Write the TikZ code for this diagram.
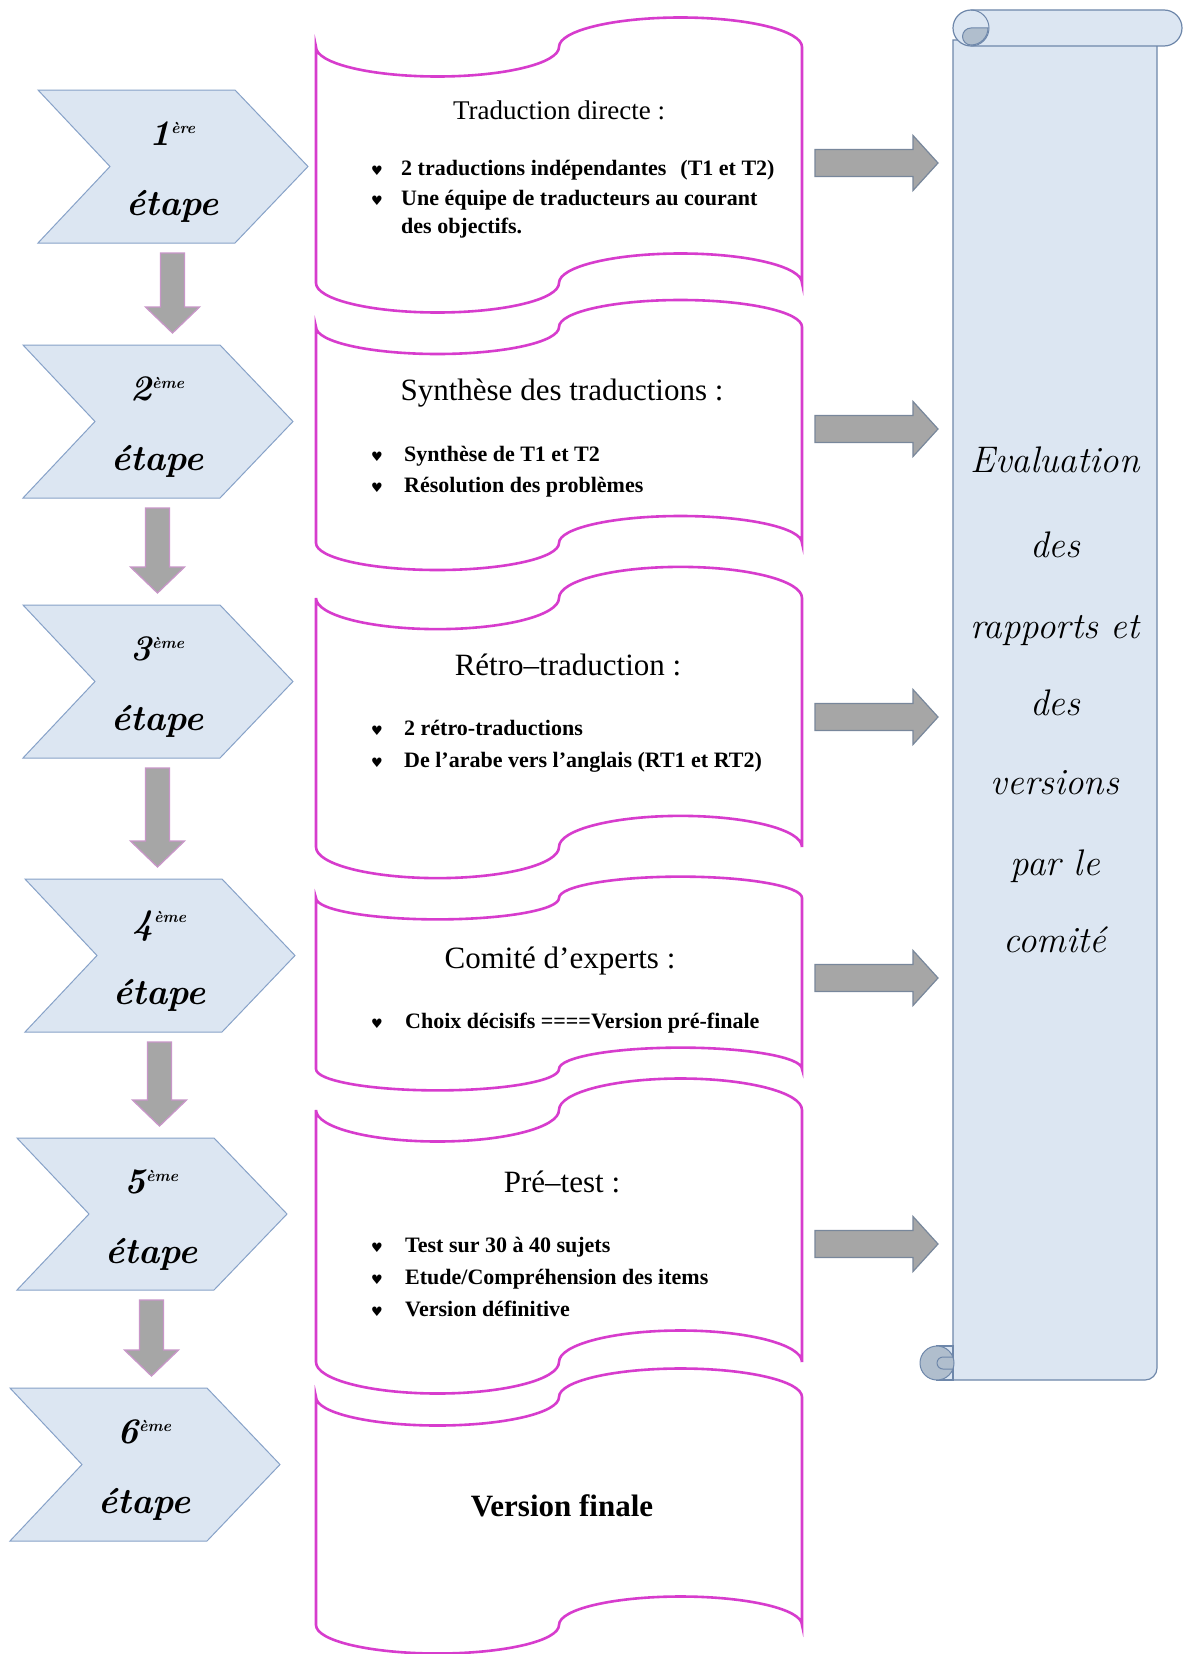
\documentclass[tikz,border=0pt]{standalone}
\usepackage{fontspec}
\setmainfont{Liberation Serif}
\newfontfamily\symf{DejaVu Sans}
\newfontfamily\scrf{Latin Modern Roman}
\usetikzlibrary{calc}
\definecolor{paleblue}{RGB}{220,230,242}
\definecolor{chevline}{RGB}{135,162,200}
\definecolor{wavemag}{RGB}{215,60,205}
\definecolor{arrowgray}{RGB}{166,166,166}
\definecolor{darrowline}{RGB}{200,150,200}
\definecolor{rarrowline}{RGB}{120,135,155}
\definecolor{scrollline}{RGB}{110,135,170}
\definecolor{curldark}{RGB}{176,190,205}
\tikzset{
  wave/.style={draw=wavemag, line width=2.6pt, fill=white},
  chev/.style={draw=chevline, line width=1pt, fill=paleblue},
  darrow/.style={draw=darrowline, line width=1.3pt, fill=arrowgray},
  rarrow/.style={draw=rarrowline, line width=1.2pt, fill=arrowgray},
  scrollshape/.style={draw=scrollline, line width=1.2pt, fill=paleblue},
  curlshape/.style={draw=scrollline, line width=1pt, fill=curldark},
  ttl/.style={font=\fontsize{31}{34}\selectfont, anchor=base, inner sep=0pt},
  blt/.style={font=\fontsize{22}{24}\selectfont\bfseries, anchor=base west, inner sep=0pt},
  hrt/.style={font=\symf\fontsize{13}{13}\selectfont, anchor=base west, inner sep=0pt},
  stp/.style={font=\scrf\bfseries\itshape\fontsize{36}{38}\selectfont, anchor=base, inner sep=0pt},
  evl/.style={font=\scrf\itshape\fontsize{37}{40}\selectfont, anchor=base, inner sep=0pt},
}
% wave (punched tape) box: name, top mid line, bottom mid line
\newcommand\wavebox[3]{%
  \pgfmathsetmacro\wry{(#3-#2)/8}%
  \draw[wave] (316,#2)
     arc[start angle=180,end angle=360,x radius=121.5pt,y radius=\wry pt]
     arc[start angle=180,end angle=0,x radius=121.5pt,y radius=\wry pt]
     -- (802,#3)
     arc[start angle=0,end angle=180,x radius=121.5pt,y radius=\wry pt]
     arc[start angle=0,end angle=-180,x radius=121.5pt,y radius=\wry pt]
     -- cycle;
  \coordinate (#1) at (559,{(#2+#3)/2});
}
% chevron: name, left x, top y, bottom y, number text
\newcommand\chevron[5]{%
  \pgfmathsetmacro\chmid{(#3+#4)/2}%
  \draw[chev] (#2,#3) -- ({#2+197},#3) -- ({#2+270},\chmid) -- ({#2+197},#4)
     -- (#2,#4) -- ({#2+72},\chmid) -- cycle;
  \coordinate (#1top) at ({#2+134.5},#3);
  \coordinate (#1bot) at ({#2+134.5},#4);
  \node[stp] (#1n) at ({#2+134.5},{#3+55}) {#5};
  \node[stp] (#1e) at ({#2+134.5},{#3+125}) {étape};
}
% down block arrow between two chevron coordinates
\newcommand\dnarrow[2]{%
  \path (#1) ++(0,10) coordinate (dA) (#2) ++(0,-12) coordinate (dB);
  \draw[darrow] let \p1=(dA), \p2=(dB) in
     (\x1-12pt,\y1) -- (\x1+12pt,\y1) -- (\x1+12pt,\y2+26pt) -- (\x1+27pt,\y2+26pt)
     -- (\x1,\y2) -- (\x1-27pt,\y2+26pt) -- (\x1-12pt,\y2+26pt) -- cycle;
}
% right block arrow at screen y
\newcommand\rtarrow[1]{%
  \draw[rarrow] (815,{#1-13.5}) -- (913,{#1-13.5}) -- (913,{#1-27.5}) -- (938,#1)
     -- (913,{#1+27.5}) -- (913,{#1+13.5}) -- (815,{#1+13.5}) -- cycle;
}
\newcommand\ere[1]{#1\raisebox{12pt}{\fontsize{16}{16}\selectfont ère}}
\newcommand\eme[1]{#1\raisebox{12pt}{\fontsize{16}{16}\selectfont ème}}
\begin{document}
\begin{tikzpicture}[x=1pt,y=-1pt]
\useasboundingbox (0,0) rectangle (1183,1654);
\fill[white] (0,0) rectangle (1183,1654);

% ---------- scroll ----------
\draw[scrollshape] (953,40) -- (953,1380) -- (1145,1380)
   arc[start angle=-90,end angle=0,radius=12pt] -- (1157,40) -- cycle;
\draw[scrollshape] (971,10) -- (1164,10) arc[start angle=90,end angle=-90,radius=18pt]
   -- (971,46) arc[start angle=270,end angle=90,radius=18pt] -- cycle;
\draw[curlshape] (988,28) arc[start angle=0,end angle=-90,radius=17pt]
   arc[start angle=270,end angle=90,radius=8.5pt] -- cycle;
\draw[scrollline, line width=1pt] (971,10) arc[start angle=90,end angle=-90,radius=18pt];
\draw[scrollshape] (937,1346) rectangle (953,1380);
\draw[curlshape] (937,1363) circle[radius=17pt];
\draw[scrollline, line width=1pt] (953,1357) -- (943,1357)
   arc[start angle=90,end angle=270,radius=6pt] -- (953,1369);
\foreach \txt/\yy [count=\i] in {Evaluation/472, des/557, rapports et/638, des/715,
   versions/794, par le/875, comité/952}{
  \node[evl] (ev\i) at (1055,\yy) {\txt};
}

% ---------- wave boxes ----------
\wavebox{b1}{47}{283}
\wavebox{b2}{327}{543}
\wavebox{b3}{598}{847}
\wavebox{b4}{898}{1069}
\wavebox{b5}{1110}{1362}
\wavebox{b6}{1397}{1625}

% box texts
\node[ttl, font=\fontsize{27}{30}\selectfont] (t1) at (559,119) {Traduction directe :};
\node[hrt] (h11) at (371,175) {♥};
\node[blt] (l11) at (401,175) {2 traductions indépendantes\hspace{14pt}(T1 et T2)};
\node[hrt] (h12) at (371,205) {♥};
\node[blt] (l12) at (401,205) {Une équipe de traducteurs au courant};
\node[blt] (l13) at (401,233) {des objectifs.};

\node[ttl] (t2) at (562,400) {Synthèse des traductions :};
\node[hrt] (h21) at (371,461) {♥};
\node[blt] (l21) at (404,461) {Synthèse de T1 et T2};
\node[hrt] (h22) at (371,492) {♥};
\node[blt] (l22) at (404,492) {Résolution des problèmes};

\node[ttl] (t3) at (568,675) {Rétro–traduction :};
\node[hrt] (h31) at (371,735) {♥};
\node[blt] (l31) at (404,735) {2 rétro-traductions};
\node[hrt] (h32) at (371,767) {♥};
\node[blt] (l32) at (404,767) {De l’arabe vers l’anglais (RT1 et RT2)};

\node[ttl] (t4) at (560,968) {Comité d’experts :};
\node[hrt] (h41) at (371,1028) {♥};
\node[blt] (l41) at (405,1028) {Choix décisifs ====Version pré-finale};

\node[ttl] (t5) at (562,1192) {Pré–test :};
\node[hrt] (h51) at (371,1252) {♥};
\node[blt] (l51) at (405,1252) {Test sur 30 à 40 sujets};
\node[hrt] (h52) at (371,1284) {♥};
\node[blt] (l52) at (405,1284) {Etude/Compréhension des items};
\node[hrt] (h53) at (371,1316) {♥};
\node[blt] (l53) at (405,1316) {Version définitive};

\node[ttl, font=\fontsize{31}{34}\selectfont\bfseries] (t6) at (562,1516) {Version finale};

% ---------- chevrons ----------
\chevron{c1}{38}{90}{243}{\ere{1}}
\chevron{c2}{23}{345}{498}{\eme{2}}
\chevron{c3}{23}{605}{758}{\eme{3}}
\chevron{c4}{25}{879}{1032}{\eme{4}}
\chevron{c5}{17}{1138}{1290}{\eme{5}}
\chevron{c6}{10}{1388}{1541}{\eme{6}}

\dnarrow{c1bot}{c2top}
\dnarrow{c2bot}{c3top}
\dnarrow{c3bot}{c4top}
\dnarrow{c4bot}{c5top}
\dnarrow{c5bot}{c6top}

% ---------- right arrows ----------
\rtarrow{163}
\rtarrow{429}
\rtarrow{717}
\rtarrow{978}
\rtarrow{1244}
\end{tikzpicture}
\end{document}
